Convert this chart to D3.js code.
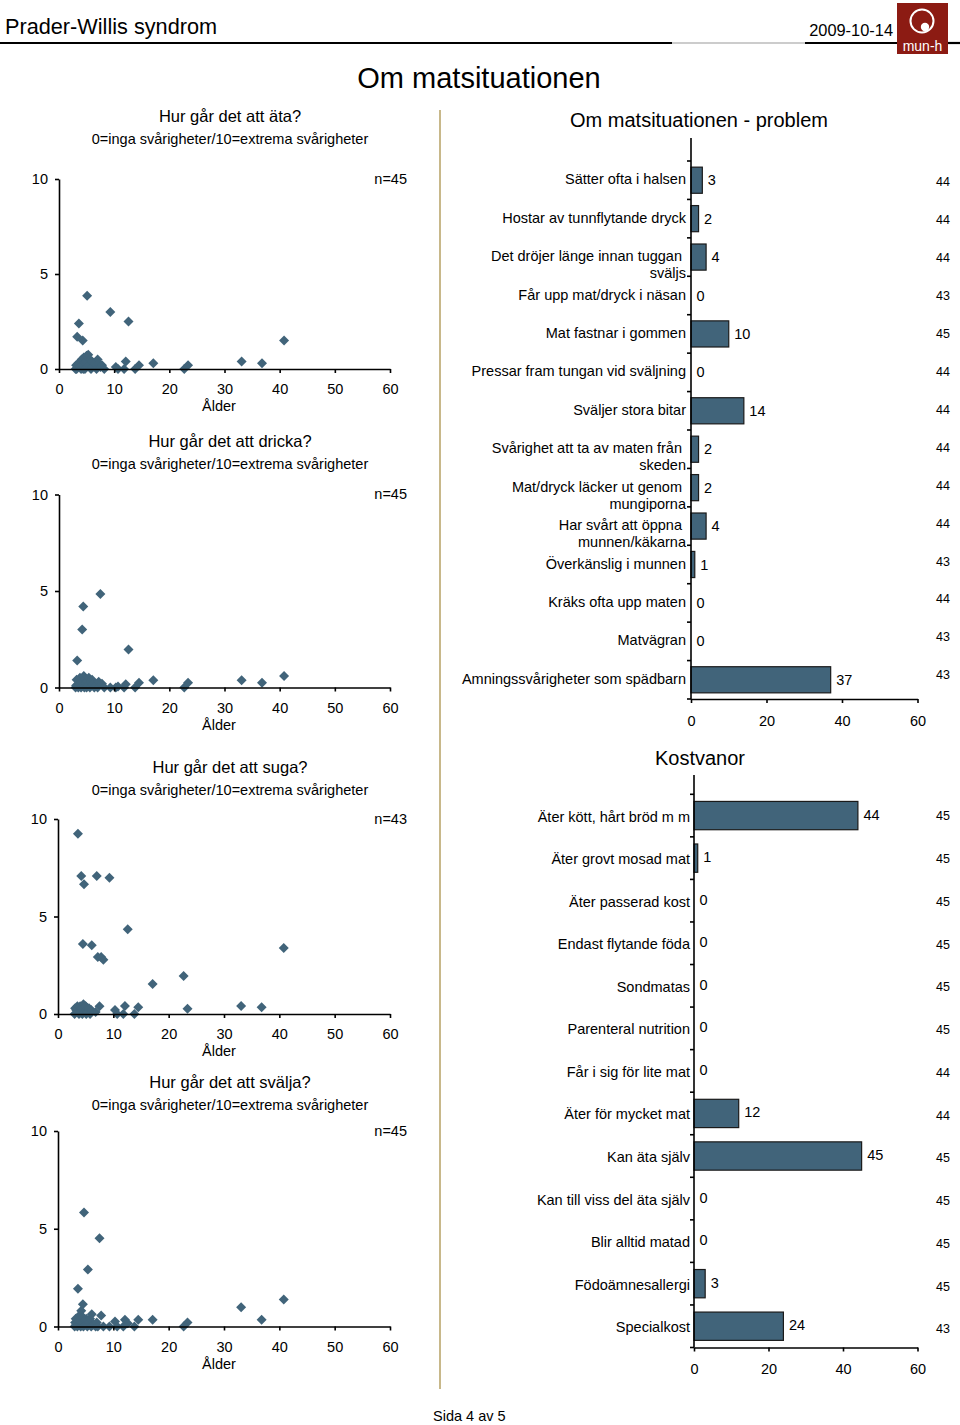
<!DOCTYPE html>
<html>
<head>
<meta charset="utf-8">
<script src="https://cdn.jsdelivr.net/npm/d3@7"></script>
<style>
  body { margin: 0; background: #fff; }
  svg { display: block; font-family: "Liberation Sans", Arial, sans-serif; }
</style>
</head>
<body>
<div id="chart"></div>
<script>
// ---- data: scatter panels (age vs rated difficulty 0-10) ----
const ages = [3.0, 3.1, 3.2, 3.3, 3.5, 3.6, 3.8, 4.0, 4.1, 4.2, 4.3, 4.4, 4.5, 4.6, 4.7,
              4.9, 5.0, 5.1, 5.3, 5.4, 5.6, 5.8, 6.0, 6.1, 6.4, 6.8, 7.0, 7.2, 7.5, 7.8,
              8.2, 9.3, 10.3, 10.7, 11.8, 12.1, 12.6, 13.8, 14.5, 17.1, 22.7, 23.4, 33.1, 36.8, 40.8];
const ataValues = [0, 0.2, 0, 1.7, 0.3, 2.4, 0.1, 0, 0.5, 0.2, 1.5, 0, 0.6, 0.3, 0,
                   0.4, 0.7, 3.85, 0.75, 0.2, 0.5, 0, 0.4, 0.1, 0.3, 0, 0.5, 0.3, 0.1, 0.2,
                   0, 3.0, 0.1, 0, 0, 0.4, 2.5, 0, 0.2, 0.3, 0, 0.2, 0.4, 0.3, 1.5];
const drickaValues = [0, 0.1, 0.4, 1.4, 0, 0.2, 0.5, 0, 0.3, 3.0, 0.1, 4.2, 0.6, 0, 0.4,
                      0.2, 0, 0.3, 0.1, 0.5, 0, 0.3, 0.4, 0.2, 0, 0.1, 0, 0.3, 4.85, 0.2,
                      0, 0, 0, 0.05, 0, 0.17, 1.97, 0, 0.24, 0.38, 0, 0.24, 0.38, 0.24, 0.59];
const sugaValues = [0, 0.3, null, 0.2, 0.4, 9.25, 0, 0.4, 0.1, 7.08, 0.3, 0, 3.59, 0.5, 6.65,
                    0.2, 0.4, 0, 0.3, 0.1, 0.3, 0, 0.2, 3.52, null, 0.1, 7.08, 2.92, 0.4, 2.92,
                    2.78, 6.99, 0.2, 0, 0, 0.41, 4.34, 0, 0.34, 1.54, 1.95, 0.27, 0.41, 0.34, 3.39];
const svaljaValues = [0, 0.2, 0.4, 0.1, 0, 1.93, 0.3, 0.6, 0, 0.8, 0.2, 0.5, 1.14, 0, 5.83,
                      0.3, 0.1, 0.4, 0, 2.91, 0.2, 0.4, 0, 0.63, 0.1, 0, 0.2, 0, 4.51, 0.56,
                      0, 0, 0.26, 0, 0, 0.34, 0.17, 0, 0.34, 0.34, 0, 0.2, 0.99, 0.34, 1.38];
const scatterTitles = ["Hur går det att äta?", "Hur går det att dricka?", "Hur går det att suga?", "Hur går det att svälja?"];
const scatterN = ["n=45", "n=45", "n=43", "n=45"];
const scatterSubtitle = "0=inga svårigheter/10=extrema svårigheter";
const ageTicks = [0, 10, 20, 30, 40, 50, 60];
const scoreTicks = [0, 5, 10];

// ---- data: bar charts ----
const problemLabels = [
  ["Sätter ofta i halsen"],
  ["Hostar av tunnflytande dryck"],
  ["Det dröjer länge innan tuggan", "sväljs"],
  ["Får upp mat/dryck i näsan"],
  ["Mat fastnar i gommen"],
  ["Pressar fram tungan vid sväljning"],
  ["Sväljer stora bitar"],
  ["Svårighet att ta av maten från", "skeden"],
  ["Mat/dryck läcker ut genom", "mungiporna"],
  ["Har svårt att öppna", "munnen/käkarna"],
  ["Överkänslig i munnen"],
  ["Kräks ofta upp maten"],
  ["Matvägran"],
  ["Amningssvårigheter som spädbarn"]
];
const problemValues = [3, 2, 4, 0, 10, 0, 14, 2, 2, 4, 1, 0, 0, 37];
const problemN = [44, 44, 44, 43, 45, 44, 44, 44, 44, 44, 43, 44, 43, 43];

const dietLabels = [
  ["Äter kött, hårt bröd m m"],
  ["Äter grovt mosad mat"],
  ["Äter passerad kost"],
  ["Endast flytande föda"],
  ["Sondmatas"],
  ["Parenteral nutrition"],
  ["Får i sig för lite mat"],
  ["Äter för mycket mat"],
  ["Kan äta själv"],
  ["Kan till viss del äta själv"],
  ["Blir alltid matad"],
  ["Födoämnesallergi"],
  ["Specialkost"]
];
const dietValues = [44, 1, 0, 0, 0, 0, 0, 12, 45, 0, 0, 3, 24];
const dietN = [45, 45, 45, 45, 45, 45, 44, 44, 45, 45, 45, 45, 43];
const countTicks = [0, 20, 40, 60];

const markColor = "#41647a";
const labelSize = "14.5px";

const svg = d3.select("#chart")
    .append("svg")
    .attr("width", 960)
    .attr("height", 1425);

svg.append("rect").attr("width", 960).attr("height", 1425).attr("fill", "#fff");

// ---- page header ----
svg.append("text")
    .attr("x", 5).attr("y", 34)
    .style("font-size", "21.7px")
    .text("Prader-Willis syndrom");

svg.append("text")
    .attr("x", 893).attr("y", 36)
    .attr("text-anchor", "end")
    .style("font-size", "16.4px")
    .text("2009-10-14");

svg.append("line").attr("x1", 0).attr("x2", 672).attr("y1", 43).attr("y2", 43)
    .attr("stroke", "#000").attr("stroke-width", 2.2);
svg.append("line").attr("x1", 672).attr("x2", 805).attr("y1", 43).attr("y2", 43)
    .attr("stroke", "#9a9a9a").attr("stroke-width", 1.2);
svg.append("line").attr("x1", 805).attr("x2", 897).attr("y1", 43).attr("y2", 43)
    .attr("stroke", "#000").attr("stroke-width", 2.2);
svg.append("line").attr("x1", 948).attr("x2", 960).attr("y1", 43).attr("y2", 43)
    .attr("stroke", "#000").attr("stroke-width", 2.2);

// logo
const logo = svg.append("g");
logo.append("rect").attr("x", 897).attr("y", 3).attr("width", 51).attr("height", 51).attr("fill", "#8c1b13");
logo.append("circle").attr("cx", 922).attr("cy", 21).attr("r", 11.5)
    .attr("fill", "none").attr("stroke", "#fff").attr("stroke-width", 2);
logo.append("circle").attr("cx", 925).attr("cy", 27).attr("r", 4.2).attr("fill", "#fff");
logo.append("text").attr("x", 922.5).attr("y", 51).attr("text-anchor", "middle")
    .attr("fill", "#fff").style("font-size", "14px").text("mun-h");

svg.append("text")
    .attr("x", 479).attr("y", 88)
    .attr("text-anchor", "middle")
    .style("font-size", "29px")
    .text("Om matsituationen");

// divider
svg.append("line").attr("x1", 440).attr("x2", 440).attr("y1", 110).attr("y2", 1389)
    .attr("stroke", "#c8b88a").attr("stroke-width", 2);

svg.append("text")
    .attr("x", 433).attr("y", 1421)
    .style("font-size", "14.5px")
    .text("Sida 4 av 5");

// ---- scatter panels ----
const panels = [
  { values: ataValues,    x0: 59, top: 179,  bottom: 369,  titleY: 122 },
  { values: drickaValues, x0: 59, top: 494.5, bottom: 687.5, titleY: 447 },
  { values: sugaValues,   x0: 58, top: 819,  bottom: 1014, titleY: 773 },
  { values: svaljaValues, x0: 58, top: 1131, bottom: 1326.5, titleY: 1088 }
];

function styleAxis(g, size) {
  g.selectAll("path, line").attr("stroke", "#000").attr("stroke-width", 1.6);
  g.selectAll("text").attr("fill", "#000")
    .style("font-size", size)
    .style("font-family", "'Liberation Sans', Arial, sans-serif");
}

panels.forEach((p, i) => {
  const x = d3.scaleLinear().domain([0, 60]).range([p.x0, 390]);
  const y = d3.scaleLinear().domain([0, 10]).range([p.bottom, p.top]);

  svg.append("text")
      .attr("x", 230).attr("y", p.titleY)
      .attr("text-anchor", "middle")
      .style("font-size", "16.5px")
      .text(scatterTitles[i]);

  svg.append("text")
      .attr("x", 230).attr("y", p.titleY + 22)
      .attr("text-anchor", "middle")
      .style("font-size", labelSize)
      .text(scatterSubtitle);

  svg.append("text")
      .attr("x", 407).attr("y", p.top + 4.5)
      .attr("text-anchor", "end")
      .style("font-size", labelSize)
      .text(scatterN[i]);

  const points = ages.map((a, j) => ({ age: a, value: p.values[j] }))
      .filter(d => d.value !== null);

  svg.append("g")
      .selectAll("path")
      .data(points)
      .join("path")
      .attr("d", "M0,-5L5,0L0,5L-5,0Z")
      .attr("transform", d => `translate(${x(d.age)},${y(d.value)})`)
      .attr("fill", markColor);

  svg.append("g")
      .attr("transform", `translate(0,${p.bottom})`)
      .call(d3.axisBottom(x).tickValues(ageTicks).tickSize(4).tickPadding(11).tickSizeOuter(0))
      .call(g => styleAxis(g, labelSize));

  svg.append("g")
      .attr("transform", `translate(${p.x0},0)`)
      .call(d3.axisLeft(y).tickValues(scoreTicks).tickSize(4).tickPadding(7).tickSizeOuter(0))
      .call(g => styleAxis(g, labelSize));

  svg.append("text")
      .attr("x", 219).attr("y", p.bottom + 42)
      .attr("text-anchor", "middle")
      .style("font-size", labelSize)
      .text("Ålder");
});

// ---- horizontal bar charts ----
function barChart(cfg) {
  const n = cfg.labels.length;
  const x = d3.scaleLinear().domain([0, 60]).range([cfg.x0, 917.5]);
  const slot = d3.scaleBand().domain(d3.range(n)).range([cfg.top, cfg.bottom]);
  const nPos = d3.scalePoint().domain(d3.range(n)).range(cfg.nRange);
  const barH = slot.bandwidth() * cfg.barRatio;
  const g = svg.append("g");

  svg.append("text")
      .attr("x", cfg.titleX).attr("y", cfg.titleY)
      .attr("text-anchor", "middle")
      .style("font-size", "20px")
      .text(cfg.title);

  g.selectAll("rect.bar")
      .data(cfg.values)
      .join("rect")
      .attr("class", "bar")
      .attr("x", x(0))
      .attr("y", (d, i) => slot(i) + (slot.bandwidth() - barH) / 2)
      .attr("width", d => x(d) - x(0))
      .attr("height", barH)
      .attr("fill", markColor)
      .attr("stroke", d => d > 0 ? "#1a1a1a" : "none")
      .attr("stroke-width", 1.2);

  // category labels
  g.selectAll("text.cat")
      .data(cfg.labels)
      .join("text")
      .attr("class", "cat")
      .attr("text-anchor", "end")
      .attr("y", (d, i) => slot(i) + slot.bandwidth() / 2 + cfg.labelDy)
      .style("font-size", labelSize)
      .each(function (lines) {
        const t = d3.select(this);
        const yy = +t.attr("y");
        lines.forEach((line, k) => {
          t.append("tspan")
              .attr("x", cfg.x0 - cfg.labelGap - (k < lines.length - 1 ? 4 : 0))
              .attr("y", yy + k * 17)
              .text(line);
        });
      });

  // value labels
  g.selectAll("text.val")
      .data(cfg.values)
      .join("text")
      .attr("class", "val")
      .attr("x", d => x(d) + 5.5)
      .attr("y", (d, i) => slot(i) + slot.bandwidth() / 2 + cfg.valueDy)
      .style("font-size", labelSize)
      .text(d => d);

  // n column
  g.selectAll("text.n")
      .data(cfg.counts)
      .join("text")
      .attr("class", "n")
      .attr("x", 950)
      .attr("y", (d, i) => nPos(i) + 4.3)
      .attr("text-anchor", "end")
      .style("font-size", "12.5px")
      .text(d => d);

  // category axis
  g.append("line")
      .attr("x1", cfg.x0).attr("x2", cfg.x0)
      .attr("y1", cfg.axisTop).attr("y2", cfg.bottom)
      .attr("stroke", "#000").attr("stroke-width", 1.6);

  g.selectAll("line.tick")
      .data(d3.range(n + 1))
      .join("line")
      .attr("class", "tick")
      .attr("x1", cfg.x0 - 4).attr("x2", cfg.x0)
      .attr("y1", i => i < n ? slot(i) : cfg.bottom)
      .attr("y2", i => i < n ? slot(i) : cfg.bottom)
      .attr("stroke", "#000").attr("stroke-width", 1.6);

  svg.append("g")
      .attr("transform", `translate(0,${cfg.bottom})`)
      .call(d3.axisBottom(x).tickValues(countTicks).tickSize(4).tickPadding(cfg.tickPad).tickSizeOuter(0))
      .call(a => styleAxis(a, labelSize));
}

barChart({
  title: "Om matsituationen - problem", titleX: 699, titleY: 127,
  labels: problemLabels, values: problemValues, counts: problemN,
  x0: 691, top: 161, bottom: 699, axisTop: 138,
  barRatio: 0.68, labelGap: 5, labelDy: 4, valueDy: 5,
  nRange: [182, 675], tickPad: 13
});

barChart({
  title: "Kostvanor", titleX: 700, titleY: 765,
  labels: dietLabels, values: dietValues, counts: dietN,
  x0: 694, top: 794.3, bottom: 1347.5, axisTop: 775,
  barRatio: 0.665, labelGap: 4, labelDy: 6, valueDy: 4,
  nRange: [816, 1329], tickPad: 12
});
</script>
</body>
</html>
